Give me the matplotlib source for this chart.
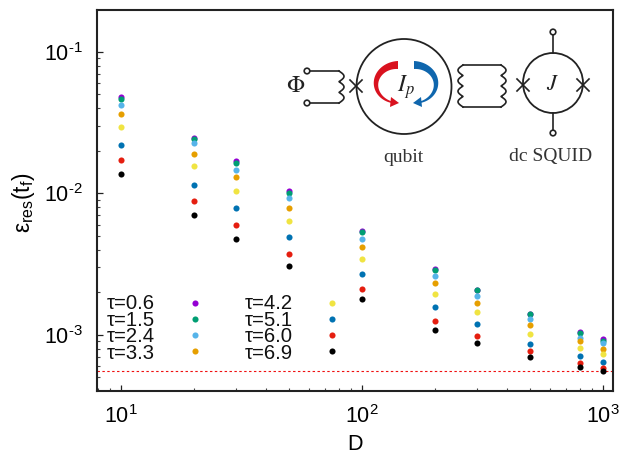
import numpy as np
import matplotlib
matplotlib.use('Agg')
import matplotlib.pyplot as plt
from matplotlib.patches import Circle, Polygon
from matplotlib.ticker import FuncFormatter

plt.rcParams['font.family'] = ['Liberation Sans', 'DejaVu Sans']
plt.rcParams['mathtext.fontset'] = 'stix'

D = [10, 20, 30, 50, 100, 200, 300, 500, 800, 1000]
tau_labels = ['0.6', '1.5', '2.4', '3.3', '4.2', '5.1', '6.0', '6.9']
colors = ['#9400d3', '#009e73', '#56b4e9', '#e69f00', '#f0e442', '#0072b2', '#e51e10', '#000000']

eps_06 = [.0476, .0246, .0169, .0103, .00539, .00292, .00208, .00141, .00104, .000933]
eps_15 = [.0461, .0242, .0163, .0100, .00533, .00288, .00206, .00140, .00103, .000908]
eps_24 = [.0419, .0225, .0147, .00922, .00475, .00260, .00188, .00129, .000955, .000879]
eps_33 = [.0365, .0189, .0131, .00787, .00417, .00232, .00167, .00118, .00090, .000798]
eps_42 = [.0292, .0155, .01038, .00637, .00345, .00194, .00146, .00102, .000803, .000728]
eps_51 = [.0219, .0115, .00783, .00493, .00269, .00156, .00119, .000865, .000708, .000645]
eps_60 = [.0172, .00883, .00597, .00372, .0021, .00125, .000986, .000764, .000633, .000582]
eps_69 = [.01376, .0070, .00473, .00306, .0018, .00108, .000879, .0007, .000596, .000557]
all_eps = [eps_06, eps_15, eps_24, eps_33, eps_42, eps_51, eps_60, eps_69]

legend_x = [20.3, 75]
legend_rows = [303.4, 319.4, 335.4, 351.4]
eps_gs = .000552

W, H = 630, 454
fig = plt.figure(figsize=(W/100, H/100), dpi=100)
ax = fig.add_axes([97/W, 1-391/H, (613-97)/W, (391-10)/H])
ax.set_xscale('log')
ax.set_yscale('log')
# limits from tick pixels: 10^1 at x=121, decade 241 px; 10^-2 at y=193.3, decade 141.5 px
ax.set_xlim(10**(1-24/241), 10**(3+10/241))
ax.set_ylim(10**(-2-(391-193.3)/141.5), 10**(-2+(193.3-10)/141.5))

for eps, c in zip(all_eps, colors):
    ax.plot(D, eps, 'o', color=c, ms=4.4, mew=0, zorder=3)
ax.axhline(eps_gs, color='#f01010', lw=0.8, ls=(0, (2.2, 2.2)))

def pow_label(v, pos):
    e = int(round(np.log10(v)))
    if e < 0:
        return r'$\mathregular{10^{\text{-}%d}}$' % -e
    return r'$\mathregular{10^{%d}}$' % e

ax.xaxis.set_major_formatter(FuncFormatter(pow_label))
ax.yaxis.set_major_formatter(FuncFormatter(pow_label))

for spine in ax.spines.values():
    spine.set_linewidth(1.5)
    spine.set_color('#222222')
ax.tick_params(which='major', length=4.5, width=0.9, labelsize=15.5, direction='in', color='#222222')
ax.tick_params(axis='x', which='major', pad=10)
ax.tick_params(axis='y', which='major', pad=10)
ax.tick_params(which='minor', length=2.2, width=0.8, direction='in', color='#444444')
ax.set_xlabel('D', fontsize=15.5, labelpad=4.5)
ax.set_ylabel(r'$\mathregular{\varepsilon_{res}(t_f)}$', fontsize=16.5)
ax.yaxis.set_label_coords(-0.117, 0.495)

# tau legend written by hand as in the figure
for k in range(8):
    col, row = divmod(k, 4)
    y_val = 10**(-2-(legend_rows[row]-193.3)/141.5)
    ax.plot(legend_x[col], y_val, 'o', color=colors[k], ms=4.4, mew=0)
for col, px in enumerate([107, 245]):
    block = '\n'.join('\u03c4=' + t for t in tau_labels[col*4:col*4+4])
    fig.text(px/W, 1-328.5/H, block, fontsize=14.6, va='center', ha='left',
             linespacing=0.84, color='#111111')

# circuit sketch, drawn in pixel coordinates
sk = fig.add_axes([0, 0, 1, 1], facecolor='none')
sk.set_xlim(0, W)
sk.set_ylim(H, 0)
sk.axis('off')
lc = '#222222'

def coil(x0, y0, y1, n, direction, w=5):
    t = np.linspace(0, 1, 200)
    y = y0 + (y1-y0)*t
    x = x0 + direction*w*np.abs(np.sin(np.pi*n*t))
    sk.plot(x, y, color=lc, lw=1.2)

def cross(x, y, r=6):
    sk.plot([x-r, x+r], [y-r, y+r], color=lc, lw=1.2)
    sk.plot([x-r, x+r], [y+r, y-r], color=lc, lw=1.2)

def node(x, y):
    sk.add_patch(Circle((x, y), 2.8, fc='white', ec=lc, lw=1.2, zorder=4))

def current(cx, side, col):
    # tapering crescent with a head, side=-1 bulges left, side=1 bulges right
    a = np.linspace(0, 1, 60)*np.radians(165)
    wid = 6.5*(1-a/a.max()) + 1.5
    xo = cx + side*(22+wid/2)*np.sin(a)
    yo = 84 - (19+wid/2)*np.cos(a)
    xi = cx + side*(22-wid/2)*np.sin(a)
    yi = 84 - (19-wid/2)*np.cos(a)
    pts = list(zip(xo, yo)) + list(zip(xi[::-1], yi[::-1]))
    sk.add_patch(Polygon(pts, fc=col, ec='none'))
    sk.add_patch(Polygon([(cx+side*7, 97), (cx+side*8, 107), (cx-side*1, 103)], fc=col, ec='none'))

# flux coil
sk.plot([307, 339], [71, 71], color=lc, lw=1.2)
sk.plot([307, 339], [103, 103], color=lc, lw=1.2)
coil(339, 71, 103, 3, 1, 5)
node(307, 71)
node(307, 103)
cross(356, 86)
# qubit loop
sk.add_patch(Circle((404, 86.5), 47.5, fc='none', ec=lc, lw=1.3))
# coupling coil
sk.plot([463, 501], [65, 65], color=lc, lw=1.2)
sk.plot([463, 501], [107, 107], color=lc, lw=1.2)
coil(463, 65, 107, 4, -1, 5)
coil(501, 65, 107, 4, 1, 5)
# squid
sk.add_patch(Circle((553, 83), 30, fc='none', ec=lc, lw=1.3))
sk.plot([553, 553], [33, 53], color=lc, lw=1.2)
sk.plot([553, 553], [113, 131], color=lc, lw=1.2)
node(553, 32)
node(553, 133)
cross(523, 85)
cross(583, 85)
# currents
current(398, -1, '#d9121f')
current(414, 1, '#0f66ad')
sk.text(295.5, 86, r'$\Phi$', fontsize=17, ha='center', va='center', color=lc)
sk.text(406, 87, r'$I_p$', fontsize=17, ha='center', va='center', color=lc)
sk.text(553, 85, r'$J$', fontsize=16, ha='center', va='center', color=lc)
sk.text(403, 158, 'qubit', fontsize=14, ha='center', va='center', family='Liberation Serif', color='#333333')
sk.text(551, 157, 'dc SQUID', fontsize=14, ha='center', va='center', family='Liberation Serif', color='#333333')

fig.savefig('out.png', dpi=100)
